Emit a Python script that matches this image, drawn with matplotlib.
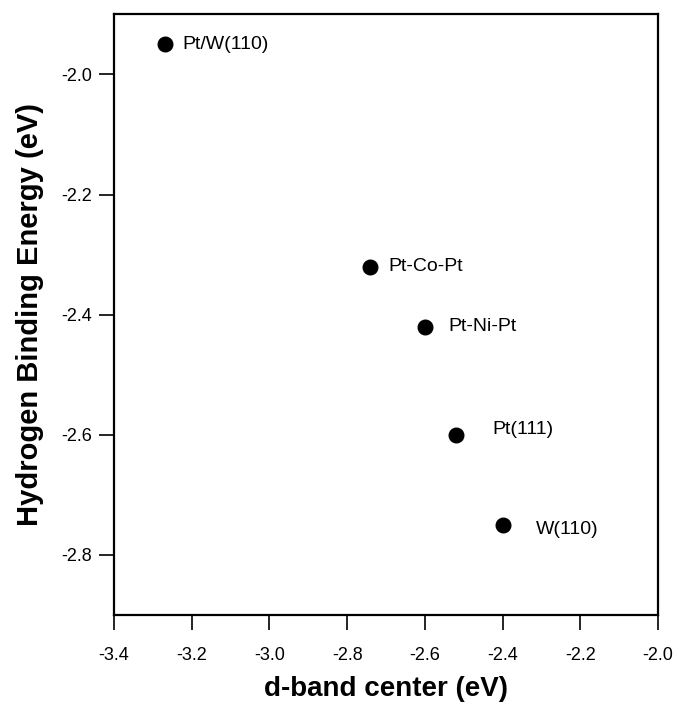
import numpy as np
import matplotlib
matplotlib.use("Agg")
import matplotlib.pyplot as plt

plt.rcParams['font.family'] = ['Liberation Sans', 'DejaVu Sans']

names = ['Pt/W(110)', 'Pt-Co-Pt', 'Pt-Ni-Pt', 'Pt(111)', 'W(110)']
d_band = [-3.27, -2.74, -2.60, -2.52, -2.40]
hbe = [-1.95, -2.32, -2.42, -2.60, -2.75]
# label offsets in points
offsets = [(13, 0), (13, 0), (17, 0), (26, 4), (24, -3)]

fig = plt.figure(figsize=(6.77, 7.06), dpi=100)
ax = fig.add_axes([0.1684, 0.1289, 0.8036, 0.8508])

ax.plot(d_band, hbe, 'o', color='black', markersize=10.5, linestyle='none')
for n, x, y, off in zip(names, d_band, hbe, offsets):
    ax.annotate(n, (x, y), xytext=off, textcoords='offset points',
                ha='left', va='center', fontsize=14)

ax.set_xlim(-3.4, -2.0)
ax.set_ylim(-2.9, -1.9)
ax.set_xticks(np.arange(-3.4, -1.99, 0.2))
ax.set_yticks(np.arange(-2.8, -1.99, 0.2))
ax.xaxis.set_major_formatter(matplotlib.ticker.FormatStrFormatter('%.1f'))
ax.yaxis.set_major_formatter(matplotlib.ticker.FormatStrFormatter('%.1f'))
ax.tick_params(direction='out', length=11, width=1.2, labelsize=13)
ax.tick_params(axis='x', pad=12)
ax.tick_params(axis='y', pad=5)
for s in ax.spines.values():
    s.set_linewidth(1.6)

ax.set_xlabel('d-band center (eV)', fontsize=20, fontweight='bold', labelpad=9)
ax.set_ylabel('Hydrogen Binding Energy (eV)', fontsize=21, fontweight='bold', labelpad=12)

fig.savefig('out.png', dpi=100)
